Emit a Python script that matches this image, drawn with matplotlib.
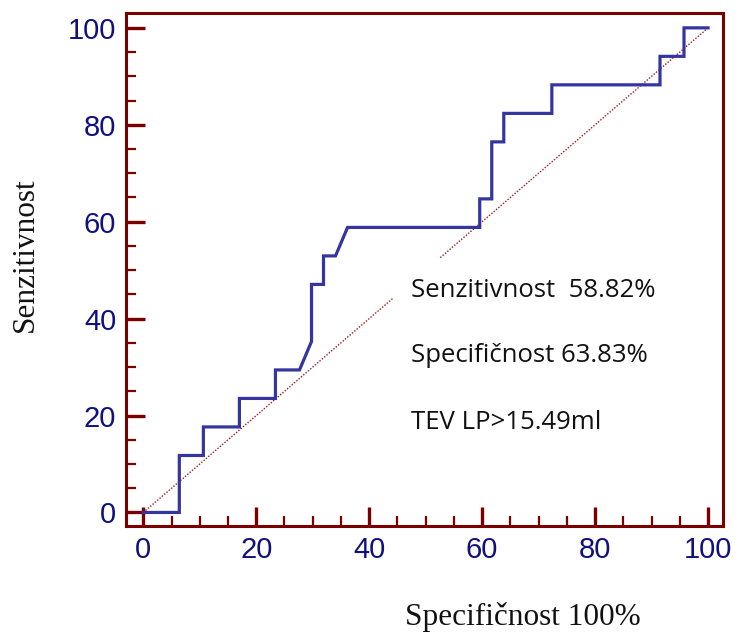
import matplotlib
matplotlib.use("Agg")
import matplotlib.pyplot as plt
from matplotlib.ticker import MultipleLocator

# ROC data (100-Specificity, Sensitivity), in %
fpr = [0, 6.38, 6.38, 10.64, 10.64, 17.02, 17.02, 23.40, 23.40, 27.66, 29.79, 29.79,
       31.91, 31.91, 34.04, 36.17, 59.57, 59.57, 61.70, 61.70, 63.83, 63.83,
       72.34, 72.34, 91.49, 91.49, 95.74, 95.74, 100]
tpr = [0, 0, 11.76, 11.76, 17.65, 17.65, 23.53, 23.53, 29.41, 29.41, 35.29, 47.06,
       47.06, 52.94, 52.94, 58.82, 58.82, 64.71, 64.71, 76.47, 76.47, 82.35,
       82.35, 88.24, 88.24, 94.12, 94.12, 100, 100]
diag_a = [0, 44.2]
diag_b = [52.6, 100]
x_ticks = [0, 20, 40, 60, 80, 100]
y_ticks = [0, 20, 40, 60, 80, 100]
notes = ["Senzitivnost  58.82%", "Specifičnost 63.83%", "TEV LP>15.49ml"]

frame_c = "#7a0000"
curve_c = "#3535a0"
tick_c = "#10107e"

fig = plt.figure(figsize=(7.39, 6.34), dpi=100)
ax = fig.add_axes([0.1705, 0.1703, 0.8075, 0.8087])

ax.plot(diag_a, diag_a, color="#a01818", lw=1.0, ls=(0, (1, 1.2)))
ax.plot(diag_b, diag_b, color="#a01818", lw=1.0, ls=(0, (1, 1.2)))
ax.plot(fpr, tpr, color=curve_c, lw=2.3, solid_joinstyle="miter")

ax.set_xlim(-3.06, 102.6)
ax.set_ylim(-2.8, 103.0)
ax.set_xticks(x_ticks)
ax.set_yticks(y_ticks)
ax.xaxis.set_minor_locator(MultipleLocator(5))
ax.yaxis.set_minor_locator(MultipleLocator(5))

for s in ax.spines.values():
    s.set_color(frame_c)
    s.set_linewidth(2.2)

ax.tick_params(which="both", direction="in", top=False, right=False, color=frame_c)
ax.tick_params(which="major", length=14, width=2.4, labelsize=21, labelcolor=tick_c, pad=7)
ax.tick_params(which="minor", length=7, width=1.6)
for lbl in ax.get_xticklabels() + ax.get_yticklabels():
    lbl.set_family("Liberation Sans")

for y, t in zip([45.9, 32.4, 18.6], notes):
    ax.text(47.4, y, t, fontsize=18.5, family="Open Sans", color="#111111", va="center", ha="left")

fig.text(0.034, 0.598, "Senzitivnost", rotation=90, family="Liberation Serif", fontsize=22.5,
         va="center", ha="center", color="#111111")
fig.text(0.708, 0.027, "Specifičnost 100%", family="Liberation Serif", fontsize=22.5,
         va="center", ha="center", color="#111111")

fig.savefig("out.png", dpi=100)
